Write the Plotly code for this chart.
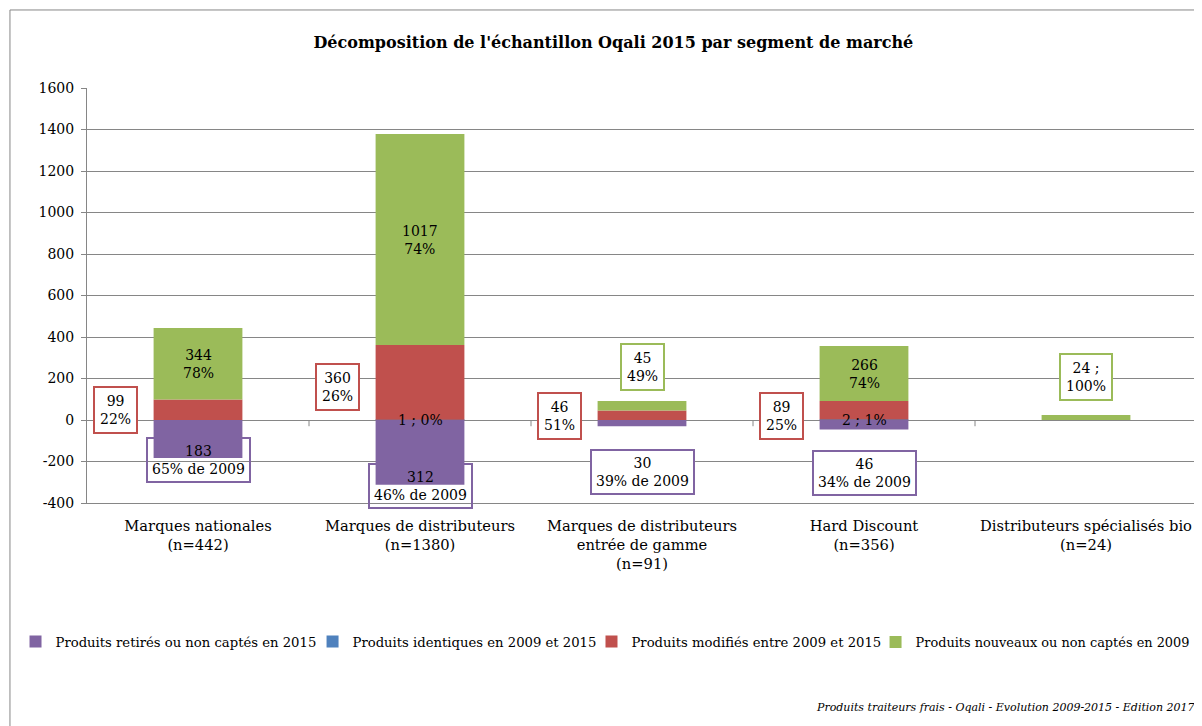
import plotly.graph_objects as go

categories = ["Marques nationales<br>(n=442)",
              "Marques de distributeurs<br>(n=1380)",
              "Marques de distributeurs<br>entrée de gamme<br>(n=91)",
              "Hard Discount<br>(n=356)",
              "Distributeurs spécialisés bio<br>(n=24)"]
retires = [-183, -312, -30, -46, 0]
identiques = [0, 1, 0, 2, 0]
modifies = [99, 360, 46, 89, 0]
nouveaux = [344, 1017, 45, 266, 24]

pct_retires = ["65% de 2009", "46% de 2009", "39% de 2009", "34% de 2009", ""]
pct_modifies = ["22%", "26%", "51%", "25%", ""]
pct_nouveaux = ["78%", "74%", "49%", "74%", "100%"]
pct_identiques = ["", "0%", "", "1%", ""]

y_ticks = [-400, -200, 0, 200, 400, 600, 800, 1000, 1200, 1400, 1600]
y_ticktext = [str(v) for v in y_ticks]

series_names = ["Produits retirés ou non captés en 2015",
                "Produits identiques en 2009 et 2015",
                "Produits modifiés entre 2009 et 2015",
                "Produits nouveaux ou non captés en 2009"]
colors = ["#8064A2", "#4F81BD", "#C0504D", "#9BBB59"]

FONT = "DejaVu Serif"
xs = list(range(len(categories)))
legend_ids = ["legend2", "legend3", "legend4", "legend5"]
legend_x = [-0.0644, 0.2032, 0.4545, 0.7104]
legend_fs = [13.2, 13.2, 13.2, 12.9]

fig = go.Figure()
for name, vals, col, lg in zip(series_names, [retires, identiques, modifies, nouveaux], colors, legend_ids):
    fig.add_trace(go.Bar(x=xs, y=vals, name=name, marker_color=col, width=0.4,
                         marker_line_width=0, legend=lg))

ann = []
tf = dict(family=FONT, size=14, color="#000000")
# red boxes (modifies) to the left
red_y = [48, 159, 19, 19, None]
for i in range(4):
    ann.append(dict(x=i - 0.37, y=red_y[i], text=f"{modifies[i]}<br>{pct_modifies[i]}",
                    showarrow=False, bordercolor=colors[2], borderwidth=2, borderpad=5,
                    bgcolor="white", font=tf))
# purple boxes (retires) below
pur_y = [-193, -318, -250, -256]
for i in range(4):
    ann.append(dict(x=i, y=pur_y[i], text=f"{-retires[i]}<br>{pct_retires[i]}",
                    showarrow=False, bordercolor=colors[0], borderwidth=2, borderpad=4,
                    bgcolor="rgba(255,255,255,0)" if i < 2 else "white", font=tf))
# green labels
for i in [0, 1, 3]:
    ymid = identiques[i] + modifies[i] + nouveaux[i] / 2
    ann.append(dict(x=i, y=ymid, text=f"{nouveaux[i]}<br>{pct_nouveaux[i]}",
                    showarrow=False, font=tf))
ann.append(dict(x=2, y=255, text=f"{nouveaux[2]}<br>{pct_nouveaux[2]}", showarrow=False,
                bordercolor=colors[3], borderwidth=2, borderpad=5, bgcolor="white", font=tf))
ann.append(dict(x=4, y=207, text=f"{nouveaux[4]} ;<br>{pct_nouveaux[4]}", showarrow=False,
                bordercolor=colors[3], borderwidth=2, borderpad=5, bgcolor="white", font=tf))
# identiques labels
for i in [1, 3]:
    ann.append(dict(x=i, y=identiques[i], text=f"{identiques[i]} ; {pct_identiques[i]}",
                    showarrow=False, font=tf))
# footer
ann.append(dict(x=1.0, xref="paper", y=-0.4916, yref="paper", xanchor="right", yanchor="middle",
                text="<i>Produits traiteurs frais - Oqali - Evolution 2009-2015 - Edition 2017</i>",
                showarrow=False, font=dict(family=FONT, size=11, color="#000000")))

shapes = []
for b in [0.5, 1.5, 2.5, 3.5]:
    shapes.append(dict(type="line", xref="x", yref="y", x0=b, x1=b, y0=0, y1=-30,
                       line=dict(color="#868686", width=1)))
shapes.append(dict(type="line", xref="paper", yref="paper", x0=-0.0694, x1=-0.0694,
                   y0=-1.0, y1=1.188, line=dict(color="#868686", width=1)))
shapes.append(dict(type="line", xref="paper", yref="paper", x0=-0.0694, x1=1.2,
                   y0=1.188, y1=1.188, line=dict(color="#868686", width=1)))

def legend_cfg(x, fs):
    return dict(x=x, orientation="h", xanchor="left", y=-0.335, yanchor="middle",
                font=dict(family=FONT, size=fs), itemwidth=30, bgcolor="rgba(0,0,0,0)")

fig.update_layout(
    width=1194, height=718,
    barmode="relative", bargap=0.6,
    paper_bgcolor="white", plot_bgcolor="white",
    margin=dict(l=79, r=5, t=80, b=223),
    font=dict(family=FONT, size=14, color="#000000"),
    title=dict(text="<b>Décomposition de l'échantillon Oqali 2015 par segment de marché</b>",
               x=0.507, xanchor="center", y=0.9526, yanchor="middle",
               font=dict(family=FONT, size=16, color="#000000")),
    xaxis=dict(tickmode="array", tickvals=xs, ticktext=categories, range=[-0.5, 4.5],
               showgrid=False, showline=True, linecolor="#868686", ticks="",
               ticklabelstandoff=9, tickfont=dict(family=FONT, size=14.7)),
    yaxis=dict(range=[-400, 1600], tickmode="array", tickvals=y_ticks, ticktext=y_ticktext,
               showgrid=True, gridcolor="#868686",
               gridwidth=1, zeroline=True, zerolinecolor="#868686", zerolinewidth=1,
               showline=True, linecolor="#868686", ticks="outside", ticklen=5,
               ticklabelstandoff=4,
               tickcolor="#868686", tickfont=dict(family=FONT, size=14)),
    legend2=legend_cfg(legend_x[0], legend_fs[0]),
    legend3=legend_cfg(legend_x[1], legend_fs[1]),
    legend4=legend_cfg(legend_x[2], legend_fs[2]),
    legend5=legend_cfg(legend_x[3], legend_fs[3]),
    annotations=ann, shapes=shapes,
)

fig.write_html("out.html")
